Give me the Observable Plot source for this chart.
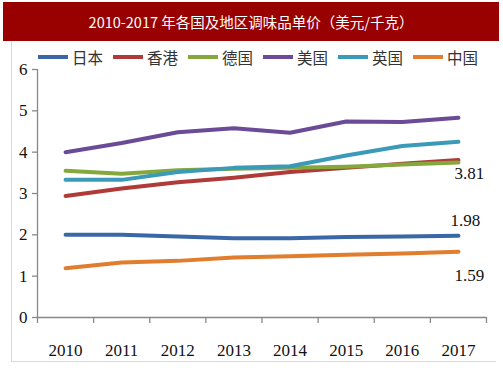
<!DOCTYPE html>
<html><head><meta charset="utf-8">
<script src="https://cdn.jsdelivr.net/npm/d3@7"></script>
<script src="https://cdn.jsdelivr.net/npm/@observablehq/plot@0.6"></script>
<style>
body{margin:0;background:#fff;}
#wrap{position:relative;width:503px;height:378px;overflow:hidden;background:#fff;}
#title{position:absolute;left:3px;top:2px;width:496px;height:39px;background:#990000;color:#fff;font:14.5px "Noto Sans CJK SC",sans-serif;display:flex;align-items:center;justify-content:center;}
#box{position:absolute;left:11px;top:41px;width:484px;height:320px;border-left:1px solid #d9d9d9;border-bottom:1px solid #d9d9d9;}
#legend{position:absolute;left:38px;top:46px;display:flex;align-items:center;font:15.5px "Noto Sans CJK SC",sans-serif;color:#333;white-space:nowrap;}
#legend .it{display:flex;align-items:center;margin-right:10px;}
#legend .sw{width:30px;height:4px;margin-right:4px;}
#chart{position:absolute;left:0;top:40px;}
#chart svg text{font-family:"Liberation Serif","Times New Roman",serif;}
</style></head>
<body><div id="wrap"><div id="title"></div><div id="box"></div><div id="chart"></div><div id="legend"></div></div>
<script>
const titleText = "2010-2017 年各国及地区调味品单价（美元/千克）";
const years = [2010, 2011, 2012, 2013, 2014, 2015, 2016, 2017];
const seriesNames = ["日本", "香港", "德国", "美国", "英国", "中国"];
const seriesColors = ["#3a67a6", "#b03a38", "#84a83c", "#6b4a97", "#3a9ab8", "#e07d2e"];
const japan   = [2.00, 2.00, 1.96, 1.92, 1.92, 1.95, 1.96, 1.98];
const hongkong= [2.94, 3.12, 3.27, 3.38, 3.52, 3.62, 3.72, 3.81];
const germany = [3.55, 3.48, 3.56, 3.60, 3.62, 3.65, 3.70, 3.75];
const usa     = [4.00, 4.22, 4.48, 4.58, 4.47, 4.74, 4.73, 4.83];
const uk      = [3.33, 3.33, 3.52, 3.62, 3.66, 3.92, 4.15, 4.25];
const china   = [1.19, 1.33, 1.37, 1.45, 1.48, 1.52, 1.55, 1.59];
const yTicks = [0, 1, 2, 3, 4, 5, 6];
const labelSeries = ["香港", "日本", "中国"];
const labelTexts = ["3.81", "1.98", "1.59"];

document.getElementById("title").textContent = titleText;
const legend = document.getElementById("legend");
seriesNames.forEach((n, i) => {
  const it = document.createElement("div"); it.className = "it";
  const sw = document.createElement("div"); sw.className = "sw"; sw.style.background = seriesColors[i];
  const tx = document.createElement("span"); tx.textContent = n;
  it.appendChild(sw); it.appendChild(tx); legend.appendChild(it);
});

const allSeries = [japan, hongkong, germany, usa, uk, china];
const data = [];
seriesNames.forEach((n, i) => years.forEach((y, j) => data.push({name: n, year: y, value: allSeries[i][j]})));
const last = years[years.length - 1];
const labelData = labelSeries.map((n, k) => ({text: labelTexts[k], year: last, value: allSeries[seriesNames.indexOf(n)][years.length - 1]}));
const bounds = years.map(y => y - 0.5).concat([last + 0.5]);
const x0 = years[0] - 0.5;
const serif = "Liberation Serif";
const lbl = (k, dx, dy) => Plot.text([labelData[k]], {x: "year", y: "value", text: "text", dx, dy, fontSize: 17, fontFamily: serif, fill: "#111"});

const chart = Plot.plot({
  width: 503, height: 321,
  marginLeft: 37, marginRight: 17, marginTop: 29, marginBottom: 44,
  x: {domain: [x0, last + 0.5], axis: null},
  y: {domain: [0, 6], axis: null},
  color: {domain: seriesNames, range: seriesColors},
  marks: [
    Plot.ruleY([0], {stroke: "#888", strokeWidth: 1.3}),
    Plot.ruleX([x0], {y1: 0, y2: 6, stroke: "#888", strokeWidth: 1.3}),
    Plot.ruleX(bounds, {x: d => d, y1: 0, y2: 0, insetBottom: -6, stroke: "#888", strokeWidth: 1.3}),
    Plot.ruleY(yTicks, {y: d => d, x1: x0, x2: x0, insetLeft: -5, stroke: "#888", strokeWidth: 1.3}),
    Plot.text(years, {x: d => d, y: 0, text: d => String(d), dy: 33, fontSize: 17, fontFamily: serif, fill: "#111"}),
    Plot.text(yTicks, {x: x0, y: d => d, text: d => String(d), dx: -10, textAnchor: "end", fontSize: 17, fontFamily: serif, fill: "#111"}),
    Plot.line(data, {x: "year", y: "value", z: "name", stroke: "name", strokeWidth: 4, curve: "linear", strokeLinecap: "round", strokeLinejoin: "round"}),
    lbl(0, 11, 14),
    lbl(1, 7, -15),
    lbl(2, 11, 24)
  ]
});
document.getElementById("chart").appendChild(chart);
</script></body></html>
